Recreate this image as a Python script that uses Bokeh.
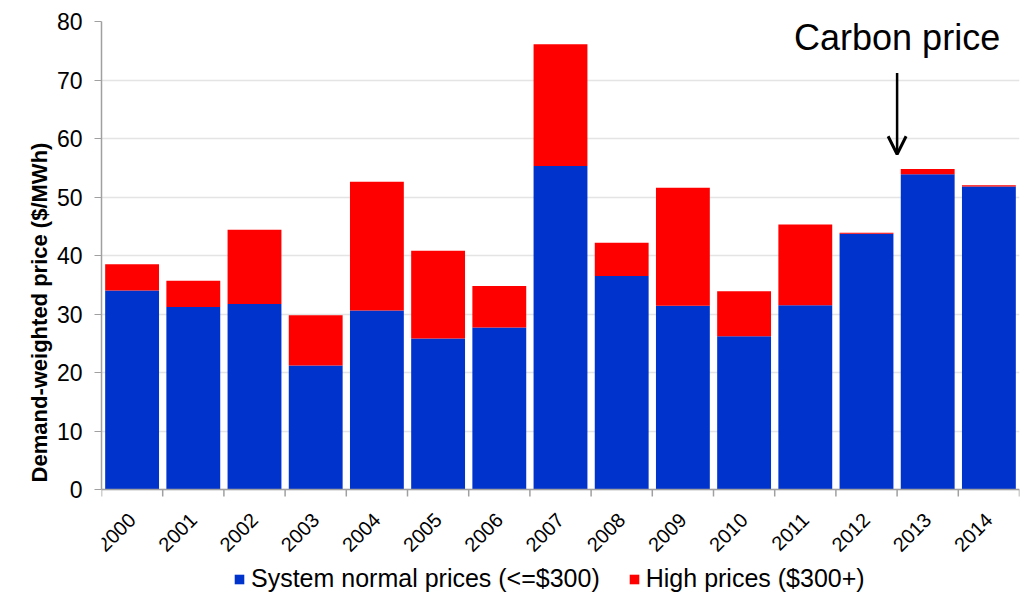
import math

from bokeh.plotting import figure
from bokeh.models import (ColumnDataSource, FixedTicker, Legend, LegendItem,
                          Arrow, OpenHead, Label, Range1d, Span, Title)
from bokeh.core.properties import value
from bokeh.embed import file_html
from bokeh.resources import INLINE

# Annual demand-weighted prices, split by price band ($/MWh)
years = ["2000", "2001", "2002", "2003", "2004", "2005", "2006", "2007",
         "2008", "2009", "2010", "2011", "2012", "2013", "2014"]
normal_prices = [34.0, 31.2, 31.7, 21.2, 30.6, 25.8, 27.7, 55.3,
                 36.5, 31.4, 26.2, 31.5, 43.7, 53.9, 51.8]
high_prices = [4.5, 4.5, 12.7, 8.6, 22.0, 15.0, 7.1, 20.8,
               5.7, 20.2, 7.7, 13.8, 0.2, 0.9, 0.2]
y_ticks = [0, 10, 20, 30, 40, 50, 60, 70, 80]

# Carbon price introduction: between 2012 and 2013
carbon_year_before = "2012"
carbon_label = "Carbon price"

BLUE = "#0033cc"
RED = "#ff0000"
AXIS = "#a0a0a0"
FONT = "Liberation Sans"

# The value axis covers 0-80 over 468 px; the frame continues below zero
# so the year labels and the legend are drawn inside it.
Y_MAX = 80
VALUE_PX = 468
FRAME_PX = 582
px = Y_MAX / VALUE_PX              # data units per screen pixel
y_start = Y_MAX - FRAME_PX * px

idx = list(range(len(years)))
src = ColumnDataSource(dict(x=idx, normal=normal_prices, high=high_prices))

p = figure(frame_width=918, frame_height=FRAME_PX, output_backend="svg",
           toolbar_location=None, x_axis_location=None,
           x_range=Range1d(-0.5, len(years) - 0.5), y_range=Range1d(y_start, Y_MAX),
           min_border_left=101, min_border_right=6, min_border_top=21,
           min_border_bottom=0)
p.outline_line_color = None
p.background_fill_color = "white"
p.border_fill_color = "white"

renderers = p.vbar_stack(["normal", "high"], x="x", width=0.88, source=src,
                         color=[BLUE, RED], line_color=None)

# Category axis: baseline, ticks between the bars, slanted year labels
p.add_layout(Span(location=0, dimension="width", line_color=AXIS, line_width=1.5))
bounds = [i - 0.5 for i in idx] + [len(idx) - 0.5]
p.segment(x0=bounds, y0=[0] * len(bounds), x1=bounds, y1=[-7 * px] * len(bounds),
          line_color=AXIS, line_width=1.5)
lab_src = ColumnDataSource(dict(x=idx, y=[-27 * px] * len(idx), t=years))
p.text(x="x", y="y", text="t", source=lab_src, angle=math.pi / 4,
       text_align="right", text_baseline="middle", text_font=value(FONT),
       text_font_size="20px", text_color="#000000")

ya = p.yaxis[0]
ya.bounds = (0, Y_MAX)
ya.ticker = FixedTicker(ticks=y_ticks)
ya.minor_tick_line_color = None
ya.major_tick_line_color = AXIS
ya.major_tick_out = 7
ya.major_tick_in = 0
ya.axis_line_color = AXIS
ya.axis_line_width = 1.5
ya.major_label_text_font = FONT
ya.major_label_text_font_size = "23px"
ya.major_label_text_color = "#000000"
ya.major_label_standoff = 12

# Value-axis title, centred on the 0-80 span rather than the whole frame
p.add_layout(Title(text="Demand-weighted price ($/MWh)", align="center",
                   offset=FRAME_PX / 2 - VALUE_PX / 2 + 11,
                   text_font=FONT, text_font_style="bold", text_font_size="22px",
                   text_color="#000000", standoff=4), "left")

for g in p.xgrid:
    g.grid_line_color = None
p.ygrid.ticker = FixedTicker(ticks=y_ticks)
p.ygrid.grid_line_color = "#e4e4e4"
p.ygrid.grid_line_width = 1.5

# Carbon price annotation
carbon_x = years.index(carbon_year_before) + 0.5
p.add_layout(Arrow(end=OpenHead(size=18, line_width=3, line_color="black"),
                   x_start=carbon_x, y_start=71.2, x_end=carbon_x, y_end=57.3,
                   line_width=2.5, line_color="black"))
p.add_layout(Label(x=carbon_x, y=77.2, text=carbon_label, text_align="center",
                   text_baseline="alphabetic", text_font=FONT,
                   text_font_size="36px", text_color="black"))

legend = Legend(items=[LegendItem(label="System normal prices (<=$300)", renderers=[renderers[0]]),
                       LegendItem(label="High prices ($300+)", renderers=[renderers[1]])],
                orientation="horizontal", location=(132, 10),
                label_text_font=FONT, label_text_font_size="25px",
                label_text_color="#000000", glyph_width=12, glyph_height=12,
                label_standoff=6, spacing=28, padding=0, margin=0,
                border_line_color=None, background_fill_alpha=0)
p.add_layout(legend)

open("out.html", "w").write(file_html(p, INLINE))
